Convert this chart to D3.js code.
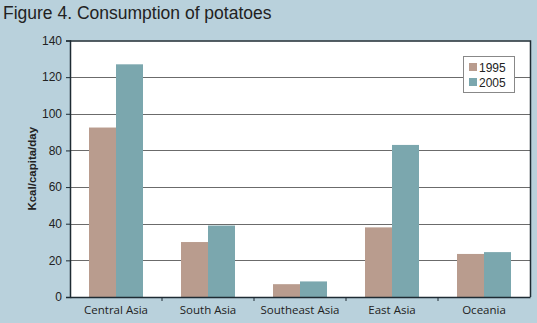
<!DOCTYPE html>
<html>
<head>
<meta charset="utf-8">
<script src="https://cdn.jsdelivr.net/npm/d3@7"></script>
<style>
  body { margin: 0; background: #b9d1dc; }
  svg { display: block; }
</style>
</head>
<body>
<script>
// data
var regions = ["Central Asia", "South Asia", "Southeast Asia", "East Asia", "Oceania"];
var years = ["1995", "2005"];
var kcal1995 = [92.5, 30, 7, 38, 23.5];
var kcal2005 = [127, 39, 8.5, 83, 24.5];
var yTicks = [0, 20, 40, 60, 80, 100, 120, 140];
var colors = ["#b99c8e", "#7ba7ae"];

var w = 537, h = 323;
var plotL = 70, plotR = 530, plotT = 40.5, plotB = 297;

var svg = d3.select("body").append("svg")
    .attr("width", w)
    .attr("height", h);

svg.append("rect").attr("width", w).attr("height", h).attr("fill", "#b9d1dc");

svg.append("text")
    .attr("x", 3)
    .attr("y", 19)
    .attr("font-family", "Liberation Sans, Arial, sans-serif")
    .attr("font-size", "17.5px")
    .attr("fill", "#222")
    .text("Figure 4. Consumption of potatoes");

var x = d3.scaleBand().domain(regions).range([plotL, plotR]);
var x1 = d3.scaleBand().domain(years).range([0, 54]);
var y = d3.scaleLinear().domain([0, 140]).range([plotB, plotT]);

// plot background
svg.append("rect")
    .attr("x", plotL).attr("y", plotT)
    .attr("width", plotR - plotL).attr("height", plotB - plotT)
    .attr("fill", "white");

// gridlines
svg.selectAll("line.grid")
    .data(yTicks.filter(function(d) { return d > 0 && d < 140; }))
    .enter()
    .append("line")
    .attr("class", "grid")
    .attr("x1", plotL).attr("x2", plotR)
    .attr("y1", function(d) { return Math.round(y(d)) + 0.5; })
    .attr("y2", function(d) { return Math.round(y(d)) + 0.5; })
    .attr("stroke", "#6b6b6b")
    .attr("stroke-width", 1);

// bars
var rows = regions.map(function(r, i) {
    return { region: r, values: [kcal1995[i], kcal2005[i]] };
});

var groups = svg.selectAll("g.region")
    .data(rows)
    .enter()
    .append("g")
    .attr("transform", function(d) {
        return "translate(" + (x(d.region) + x.bandwidth() / 2 - 27) + ",0)";
    });

groups.selectAll("rect")
    .data(function(d) { return d.values; })
    .enter()
    .append("rect")
    .attr("x", function(d, i) { return x1(years[i]); })
    .attr("y", function(d) { return y(d); })
    .attr("width", x1.bandwidth())
    .attr("height", function(d) { return plotB - y(d); })
    .attr("fill", function(d, i) { return colors[i]; });

// frame top and right
svg.append("path")
    .attr("d", "M" + plotL + "," + (plotT + 0.5) + "H" + (plotR + 0.5) + "V" + plotB)
    .attr("fill", "none")
    .attr("stroke", "#1e2b33")
    .attr("stroke-width", 1.5);

// y axis
var yAxis = svg.append("g")
    .attr("transform", "translate(" + plotL + ",0)")
    .call(d3.axisLeft(y).tickValues(yTicks).tickSize(4).tickPadding(4));
yAxis.select(".domain").attr("stroke", "#1e2b33").attr("stroke-width", 1.5);
yAxis.selectAll(".tick line").attr("stroke", "#1e2b33");
yAxis.selectAll("text")
    .attr("font-family", "Liberation Sans, Arial, sans-serif")
    .attr("font-size", "12px")
    .attr("fill", "#222");

// x axis
var xAxis = svg.append("g")
    .attr("transform", "translate(0," + plotB + ")")
    .call(d3.axisBottom(x).tickSize(0).tickPadding(9));
xAxis.select(".domain").attr("stroke", "#1e2b33").attr("stroke-width", 1.5);
xAxis.selectAll("text")
    .attr("font-family", "Open Sans, Noto Sans, sans-serif")
    .attr("font-size", "11.5px")
    .attr("fill", "#222");

// ticks between categories
svg.selectAll("line.sep")
    .data(regions.slice(1))
    .enter()
    .append("line")
    .attr("x1", function(d) { return x(d); })
    .attr("x2", function(d) { return x(d); })
    .attr("y1", plotB).attr("y2", plotB + 4)
    .attr("stroke", "#1e2b33");

// y label
svg.append("text")
    .attr("transform", "translate(36," + ((plotT + plotB) / 2) + ") rotate(-90)")
    .attr("text-anchor", "middle")
    .attr("font-family", "Liberation Sans, Arial, sans-serif")
    .attr("font-size", "11.5px")
    .attr("font-weight", "bold")
    .attr("fill", "#222")
    .text("Kcal/capita/day");

// legend
var legend = svg.append("g").attr("transform", "translate(463,56)");
legend.append("rect")
    .attr("x", 0.5).attr("y", 0.5)
    .attr("width", 51).attr("height", 36)
    .attr("fill", "white")
    .attr("stroke", "#888");
years.forEach(function(yr, i) {
    legend.append("rect")
        .attr("x", 6).attr("y", 7 + i * 15)
        .attr("width", 8).attr("height", 8)
        .attr("fill", colors[i]);
    legend.append("text")
        .attr("x", 16).attr("y", 15.5 + i * 15)
        .attr("font-family", "Liberation Sans, Arial, sans-serif")
        .attr("font-size", "12px")
        .attr("fill", "#222")
        .text(yr);
});
</script>
</body>
</html>
